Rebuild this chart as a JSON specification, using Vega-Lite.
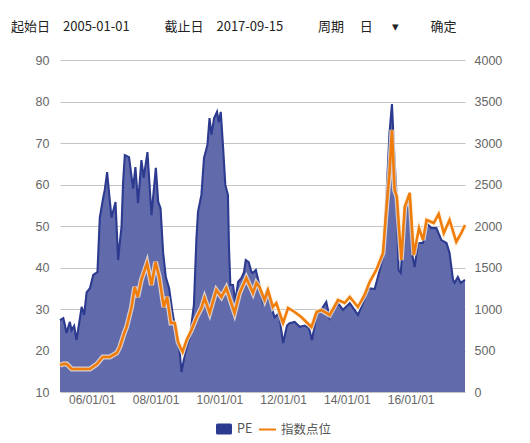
{
"$schema":"https://vega.github.io/schema/vega-lite/v6.json",
"autosize":{"type":"none"},
"width":405,"height":332,
"padding":{"left":60,"top":60,"right":65,"bottom":51},
"background":"#ffffff",
"title":{"text":"起始日　2005-01-01　　\u00a0\u00a0\u00a0截止日　2017-09-15　　\u00a0\u00a0\u00a0周期　\u00a0日　\u00a0\u00a0▾　　\u00a0\u00a0确定","anchor":"start","frame":"group","dx":-49,"offset":20,"font":"Noto Sans CJK SC","fontSize":13,"fontWeight":"normal","color":"#222222"},
"config":{"view":{"stroke":null},"font":"Noto Sans CJK SC","axis":{"labelFont":"Liberation Sans"}},
"datasets":{
"pe":[
{"d":"2005-01-01","v":27.3},{"d":"2005-02-08","v":27.8},{"d":"2005-02-27","v":26.1},{"d":"2005-03-16","v":24.2},{"d":"2005-04-24","v":26.9},{"d":"2005-05-13","v":24.9},{"d":"2005-06-12","v":25.9},{"d":"2005-07-09","v":22.5},{"d":"2005-08-05","v":26.1},{"d":"2005-09-06","v":30.5},{"d":"2005-10-05","v":28.6},{"d":"2005-11-02","v":34},{"d":"2005-12-10","v":35},{"d":"2006-01-17","v":38.2},{"d":"2006-03-06","v":38.9},{"d":"2006-04-02","v":52},{"d":"2006-05-10","v":56.7},{"d":"2006-05-29","v":58.7},{"d":"2006-06-25","v":63},{"d":"2006-07-17","v":58},{"d":"2006-08-14","v":52},{"d":"2006-09-29","v":55.8},{"d":"2006-10-29","v":41.8},{"d":"2006-11-17","v":46},{"d":"2006-12-07","v":49.8},{"d":"2006-12-25","v":60.6},{"d":"2007-01-14","v":67.1},{"d":"2007-03-03","v":66.6},{"d":"2007-04-18","v":59},{"d":"2007-05-15","v":64.2},{"d":"2007-06-14","v":55.5},{"d":"2007-07-23","v":65.9},{"d":"2007-08-18","v":61.6},{"d":"2007-09-30","v":67.8},{"d":"2007-11-15","v":52.6},{"d":"2008-01-04","v":64},{"d":"2008-01-31","v":55.8},{"d":"2008-02-27","v":54.3},{"d":"2008-03-27","v":43.7},{"d":"2008-04-27","v":37.7},{"d":"2008-06-04","v":35},{"d":"2008-07-12","v":29.3},{"d":"2008-08-27","v":23.7},{"d":"2008-10-04","v":19.6},{"d":"2008-10-24","v":14.8},{"d":"2008-12-01","v":19},{"d":"2009-01-08","v":22},{"d":"2009-01-27","v":23},{"d":"2009-03-15","v":31},{"d":"2009-04-13","v":47},{"d":"2009-05-01","v":53.4},{"d":"2009-06-09","v":57.5},{"d":"2009-07-09","v":66.4},{"d":"2009-08-17","v":69.5},{"d":"2009-09-10","v":76},{"d":"2009-10-02","v":72},{"d":"2009-11-02","v":76},{"d":"2009-12-05","v":77.5},{"d":"2009-12-25","v":75},{"d":"2010-01-17","v":77.5},{"d":"2010-02-13","v":68.8},{"d":"2010-03-10","v":59.9},{"d":"2010-04-09","v":57.5},{"d":"2010-04-21","v":44.7},{"d":"2010-05-07","v":35.8},{"d":"2010-06-06","v":35.8},{"d":"2010-07-03","v":31.7},{"d":"2010-08-03","v":36.5},{"d":"2010-09-11","v":37.5},{"d":"2010-10-10","v":38.9},{"d":"2010-10-30","v":41.8},{"d":"2010-12-03","v":41.3},{"d":"2011-01-03","v":38.9},{"d":"2011-01-18","v":38.7},{"d":"2011-02-23","v":39.4},{"d":"2011-03-30","v":36.3},{"d":"2011-05-15","v":31.7},{"d":"2011-07-01","v":34.6},{"d":"2011-08-19","v":30.5},{"d":"2011-09-26","v":28},{"d":"2011-11-15","v":29},{"d":"2012-01-01","v":21.8},{"d":"2012-02-15","v":26},{"d":"2012-03-15","v":26.6},{"d":"2012-05-12","v":26.9},{"d":"2012-07-10","v":25.7},{"d":"2012-09-06","v":26},{"d":"2012-10-24","v":25.4},{"d":"2012-11-27","v":22.5},{"d":"2013-01-18","v":28.6},{"d":"2013-03-12","v":29.8},{"d":"2013-05-10","v":31.7},{"d":"2013-06-18","v":27.8},{"d":"2013-09-21","v":31.4},{"d":"2013-11-18","v":29.8},{"d":"2014-02-03","v":31.4},{"d":"2014-05-07","v":28.6},{"d":"2014-07-04","v":31.4},{"d":"2014-09-01","v":35},{"d":"2014-11-15","v":34.8},{"d":"2014-12-22","v":37.7},{"d":"2015-02-18","v":42.5},{"d":"2015-03-28","v":56.3},{"d":"2015-05-04","v":72.4},{"d":"2015-06-01","v":79.4},{"d":"2015-06-25","v":68.3},{"d":"2015-07-22","v":58},{"d":"2015-08-16","v":39.4},{"d":"2015-09-10","v":38.7},{"d":"2015-10-04","v":45.9},{"d":"2015-11-01","v":54.6},{"d":"2015-12-22","v":58},{"d":"2016-01-16","v":43.5},{"d":"2016-02-16","v":40.1},{"d":"2016-03-25","v":45.9},{"d":"2016-05-22","v":45.9},{"d":"2016-07-01","v":50.7},{"d":"2016-08-25","v":49.5},{"d":"2016-10-22","v":49.5},{"d":"2016-12-19","v":46.6},{"d":"2017-02-15","v":45.9},{"d":"2017-03-22","v":43.5},{"d":"2017-05-01","v":37},{"d":"2017-05-19","v":36.3},{"d":"2017-06-25","v":37.7},{"d":"2017-07-28","v":36.3},{"d":"2017-09-15","v":37}
],
"idx":[
{"d":"2005-01-01","v":325},{"d":"2005-02-15","v":340},{"d":"2005-03-20","v":337},{"d":"2005-05-15","v":277},{"d":"2005-08-15","v":277},{"d":"2005-12-10","v":277},{"d":"2006-02-28","v":337},{"d":"2006-05-06","v":422},{"d":"2006-07-25","v":422},{"d":"2006-10-13","v":470},{"d":"2006-11-17","v":542},{"d":"2007-01-04","v":700},{"d":"2007-02-03","v":783},{"d":"2007-04-01","v":1024},{"d":"2007-05-07","v":1265},{"d":"2007-06-10","v":1145},{"d":"2007-07-22","v":1350},{"d":"2007-09-25","v":1554},{"d":"2007-11-15","v":1289},{"d":"2008-01-01","v":1567},{"d":"2008-02-12","v":1386},{"d":"2008-04-04","v":1024},{"d":"2008-05-12","v":1145},{"d":"2008-06-24","v":831},{"d":"2008-08-09","v":831},{"d":"2008-09-15","v":602},{"d":"2008-11-06","v":482},{"d":"2008-12-21","v":627},{"d":"2009-02-15","v":747},{"d":"2009-04-12","v":892},{"d":"2009-06-09","v":1012},{"d":"2009-07-15","v":1133},{"d":"2009-09-12","v":952},{"d":"2009-11-27","v":1229},{"d":"2010-01-24","v":1145},{"d":"2010-03-21","v":1253},{"d":"2010-06-24","v":952},{"d":"2010-08-21","v":1193},{"d":"2010-11-06","v":1374},{"d":"2011-01-21","v":1193},{"d":"2011-03-01","v":1313},{"d":"2011-04-06","v":1265},{"d":"2011-06-03","v":1108},{"d":"2011-07-12","v":1229},{"d":"2011-09-06","v":1024},{"d":"2011-10-15","v":1072},{"d":"2012-01-01","v":831},{"d":"2012-02-27","v":1012},{"d":"2012-05-12","v":964},{"d":"2012-07-27","v":904},{"d":"2012-11-21","v":783},{"d":"2013-01-18","v":964},{"d":"2013-03-12","v":988},{"d":"2013-06-18","v":928},{"d":"2013-09-21","v":1108},{"d":"2013-12-06","v":1072},{"d":"2014-02-03","v":1145},{"d":"2014-05-07","v":1024},{"d":"2014-07-22","v":1169},{"d":"2014-09-18","v":1325},{"d":"2014-12-04","v":1470},{"d":"2015-02-18","v":1675},{"d":"2015-03-28","v":2193},{"d":"2015-05-04","v":2639},{"d":"2015-06-01","v":3157},{"d":"2015-07-01","v":2434},{"d":"2015-07-28","v":2350},{"d":"2015-09-16","v":1590},{"d":"2015-10-25","v":2229},{"d":"2015-12-22","v":2398},{"d":"2016-02-06","v":1651},{"d":"2016-04-06","v":1976},{"d":"2016-05-22","v":1831},{"d":"2016-07-01","v":2073},{"d":"2016-09-22","v":2036},{"d":"2016-11-18","v":2145},{"d":"2017-01-15","v":1916},{"d":"2017-03-22","v":2073},{"d":"2017-06-07","v":1808},{"d":"2017-08-04","v":1916},{"d":"2017-09-15","v":2012}
]},
"encoding":{"x":{"field":"d","type":"temporal","title":null,"scale":{"type":"utc","domain":["2005-01-01","2017-09-15"]},
"axis":{"values":["2006-01-01","2008-01-01","2010-01-01","2012-01-01","2014-01-01","2016-01-01"],"labelExpr":"utcFormat(toDate(datum.value),'%y/%m/%d')","grid":false,"ticks":false,"domain":false,"labelColor":"#666666","labelFontSize":12,"labelPadding":2,"labelOverlap":false}}},
"layer":[
{"data":{"name":"pe"},"mark":{"type":"area","fill":"#ffffff","clip":true},
"encoding":{
"y":{"field":"v","type":"quantitative","title":null,"scale":{"domain":[10,90],"nice":false},
"axis":{"orient":"left","values":[10,20,30,40,50,60,70,80,90],"grid":true,"gridColor":"#c4c4c4","gridWidth":1.2,"ticks":false,"domain":false,"labelColor":"#666666","labelFontSize":12.5,"labelPadding":11}}}},
{"data":{"name":"pe"},"mark":{"type":"area","fillOpacity":0.75,"clip":true},
"encoding":{
"y":{"field":"v","type":"quantitative","axis":null,"scale":{"domain":[10,90],"nice":false}},
"fill":{"datum":"PE","type":"nominal","scale":{"domain":["PE"],"range":["#2c3a8f"]},"legend":{"title":null,"orient":"none","legendX":155,"legendY":360,"symbolType":"M-0.8,-0.7H0.8Q1,-0.7 1,-0.5V0.5Q1,0.7 0.8,0.7H-0.8Q-1,0.7 -1,0.5V-0.5Q-1,-0.7 -0.8,-0.7Z","symbolSize":256,"symbolOpacity":1,"labelFontSize":12.5,"labelColor":"#555555"}}}},
{"data":{"name":"pe"},"mark":{"type":"line","stroke":"#2c3a8f","strokeWidth":2.1},
"encoding":{
"y":{"field":"v","type":"quantitative","axis":null,"scale":{"domain":[10,90],"nice":false}}}},
{"data":{"name":"idx"},"mark":{"type":"line","stroke":"#fff0dc","strokeWidth":5,"opacity":0.75},
"encoding":{
"y":{"field":"v","type":"quantitative","title":null,"scale":{"domain":[0,4000],"nice":false},
"axis":{"orient":"right","values":[0,500,1000,1500,2000,2500,3000,3500,4000],"format":"d","grid":false,"ticks":false,"domain":false,"labelColor":"#666666","labelFontSize":12.5,"labelPadding":9}}}},
{"data":{"name":"idx"},"mark":{"type":"line","strokeWidth":2.6},
"encoding":{
"y":{"field":"v","type":"quantitative","axis":null,"scale":{"domain":[0,4000],"nice":false}},
"stroke":{"datum":"指数点位","type":"nominal","scale":{"domain":["指数点位"],"range":["#f07d0a"]},"legend":{"title":null,"orient":"none","legendX":198,"legendY":360,"symbolType":"stroke","symbolStrokeWidth":2,"symbolSize":289,"labelFontSize":12.5,"labelColor":"#555555"}}}}
],
"resolve":{"scale":{"y":"independent","fill":"independent","stroke":"independent"},"axis":{"y":"independent"}}
}
